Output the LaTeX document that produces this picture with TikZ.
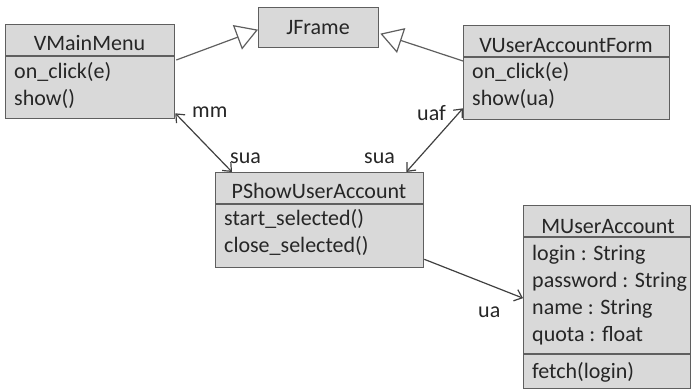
\documentclass[tikz,border=0pt]{standalone}
\usepackage{fontspec}
\setmainfont{Carlito}
\usetikzlibrary{arrows.meta,calc}

\definecolor{boxfill}{RGB}{217,217,217}
\definecolor{boxline}{RGB}{95,95,95}
\definecolor{inkgray}{RGB}{38,38,38}
\definecolor{linkgray}{RGB}{64,64,64}

\tikzset{
  classbox/.style={draw=boxline, fill=boxfill, line width=1.3pt,
    rectangle, inner sep=0pt, anchor=north west},
  divider/.style={draw=boxline, line width=1.3pt},
  txt/.style={inner sep=0pt, text=inkgray,
    font=\fontsize{22}{27}\selectfont},
  headtxt/.style={txt, anchor=base},
  membertxt/.style={txt, anchor=base west},
  roletxt/.style={txt, anchor=base west},
  inherit/.style={draw=boxline, line width=1.2pt,
    -{Triangle[open, length=22pt, width=26pt, line width=1.2pt, fill=white]}},
  assoc/.style={draw=linkgray, line width=1.2pt,
    {Straight Barb[length=7pt, width=12pt]}-{Straight Barb[length=7pt, width=12pt]}},
  navig/.style={draw=linkgray, line width=1.2pt,
    -{Straight Barb[length=7pt, width=12pt]}},
}

\begin{document}
\begin{tikzpicture}[x=1pt, y=-1pt]
\useasboundingbox (0,0) rectangle (693,391);

% class boxes
\node[classbox, minimum width=169pt, minimum height=94pt]  (vmm)  at (5,24)   {};
\node[classbox, minimum width=120pt, minimum height=40pt]  (jf)   at (258,7)  {};
\node[classbox, minimum width=206pt, minimum height=94pt]  (vuaf) at (463,25) {};
\node[classbox, minimum width=208pt, minimum height=95pt]  (psua) at (215,172){};
\node[classbox, minimum width=167pt, minimum height=183pt] (mua)  at (523,205){};

% compartment dividers
\draw[divider] ($(vmm.north west)+(0,32)$)  -- ($(vmm.north east)+(0,32)$);
\draw[divider] ($(vuaf.north west)+(0,32)$) -- ($(vuaf.north east)+(0,32)$);
\draw[divider] ($(psua.north west)+(0,32)$) -- ($(psua.north east)+(0,32)$);
\draw[divider] ($(mua.north west)+(0,32)$)  -- ($(mua.north east)+(0,32)$);
\draw[divider] ($(mua.north west)+(0,149)$) -- ($(mua.north east)+(0,149)$);

% VMainMenu
\node[headtxt]   (vmm-h)  at (89.5,50) {VMainMenu};
\node[membertxt] (vmm-m1) at (14,78)   {on\_click(e)};
\node[membertxt] (vmm-m2) at (14,105)  {show()};

% JFrame
\node[headtxt]   (jf-h)   at (318,34)  {JFrame};

% VUserAccountForm
\node[headtxt]   (vuaf-h)  at (566,52) {VUserAccountForm};
\node[membertxt] (vuaf-m1) at (472,78) {on\_click(e)};
\node[membertxt] (vuaf-m2) at (472,105){show(ua)};

% PShowUserAccount
\node[headtxt]   (psua-h)  at (319,198){PShowUserAccount};
\node[membertxt] (psua-m1) at (224,225){start\_selected()};
\node[membertxt] (psua-m2) at (224,252){close\_selected()};

% MUserAccount
\node[headtxt]   (mua-h)  at (608,233) {MUserAccount};
\node[membertxt] (mua-a1) at (532,260) {login : String};
\node[membertxt] (mua-a2) at (532,287) {password : String};
\node[membertxt] (mua-a3) at (532,314) {name : String};
\node[membertxt] (mua-a4) at (532,341) {quota : float};
\node[membertxt] (mua-o1) at (532,378) {fetch(login)};

% generalisations to JFrame
\draw[inherit] ($(vmm.north east)+(1,36)$) -- ($(jf.west)+(0,2)$);
\draw[inherit] ($(vuaf.north west)+(0,36)$) -- ($(jf.east)+(1,6)$);

% associations
\draw[assoc] ($(vmm.south east)+(0,-6)$) -- ($(psua.north west)+(17,0)$);
\draw[assoc] ($(vuaf.south west)+(0,-12)$) -- ($(psua.north east)+(-18,0)$);
\draw[navig] ($(psua.south east)+(0,-9)$) -- ($(mua.west)+(0,1)$);

% role names
\node[roletxt] (r-mm)   at (192,117) {mm};
\node[roletxt] (r-sua1) at (230,163) {sua};
\node[roletxt] (r-uaf)  at (417,120) {uaf};
\node[roletxt] (r-sua2) at (364,163) {sua};
\node[roletxt] (r-ua)   at (478,317) {ua};
\end{tikzpicture}
\end{document}
